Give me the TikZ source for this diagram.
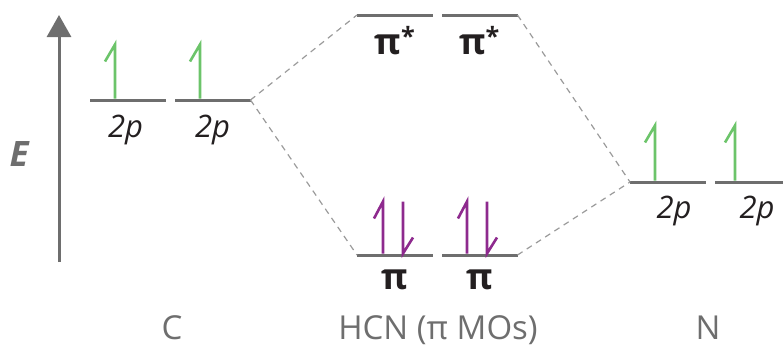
\documentclass[tikz,border=0pt]{standalone}
\usepackage{fontspec}
\setmainfont{Open Sans}
\usetikzlibrary{arrows.meta, positioning}
\definecolor{levelgray}{RGB}{110,110,110}
\definecolor{dashgray}{RGB}{155,155,155}
\definecolor{spingreen}{RGB}{108,196,106}
\definecolor{spinpurple}{RGB}{142,42,142}
\definecolor{textblack}{RGB}{35,31,32}

\begin{document}
\begin{tikzpicture}[x=1pt, y=-1pt, node distance=12pt,
    every node/.style={font=\fontsize{21}{24}\selectfont, text=textblack, inner sep=0pt},
    level/.style={fill=levelgray, minimum width=76pt, minimum height=3pt, inner sep=0pt, outer sep=0pt},
    orb/.style={font=\fontsize{31}{34}\selectfont\itshape},
    mo/.style={font=\fontsize{36}{40}\selectfont\bfseries},
    atom/.style={font=\fontsize{33}{36}\selectfont, text=levelgray, anchor=base},
    corr/.style={dashgray, dash pattern=on 6pt off 5pt, line width=1.2pt},
    spinline/.style={line width=2.6pt}]
    \useasboundingbox (0,0) rectangle (783,349);

    % Energy axis
    \coordinate (axisbot) at (59,262);
    \coordinate (axistop) at (59,15);
    \draw[levelgray, line width=3pt, -{Triangle[width=24pt, length=22pt]}] (axisbot) -- (axistop);
    \node[font=\fontsize{35}{38}\selectfont\bfseries\itshape, text=levelgray] (E) at (19,154) {E};

    % Levels
    \node[level] (C1) at (127.5,100) {};
    \node[level] (C2) at (212.5,100) {};
    \node[level] (P1s) at (395,15) {};
    \node[level] (P2s) at (479.5,15) {};
    \node[level] (P1) at (395,255) {};
    \node[level] (P2) at (479.5,255) {};
    \node[level] (N1) at (668,182) {};
    \node[level, minimum width=68pt] (N2) at (749,182) {};

    % Level labels
    \node[orb, below=13pt of C1, xshift=-2pt] (C1lab) {2p};
    \node[orb, below=13pt of C2] (C2lab) {2p};
    \node[mo, below=10pt of P1s] (P1slab) {π\textsuperscript{*}};
    \node[mo, below=10pt of P2s] (P2slab) {π\textsuperscript{*}};
    \node[mo, below=13pt of P1] (P1lab) {π};
    \node[mo, below=13pt of P2] (P2lab) {π};
    \node[orb, below=12pt of N1, xshift=6pt] (N1lab) {2p};
    \node[orb, below=12pt of N2, xshift=8pt] (N2lab) {2p};

    % Atoms and molecule
    \node[atom] (Clab) at (172,339) {C};
    \node[atom] (HCN) at (438,339) {HCN (π MOs)};
    \node[atom] (Nlab) at (708,339) {N};

    % Dashed correlation lines
    \draw[corr] (C2.east) -- (P1s.west);
    \draw[corr] (C2.east) -- (P1.west);
    \draw[corr] (P2s.east) -- (N1.west);
    \draw[corr] (P2.east) -- (N1.west);

    % Electrons
    \draw[spingreen, spinline] ([xshift=-12.5pt]C1.north) -- ++(0,-54) -- ++(-10,17);
    \draw[spingreen, spinline] ([xshift=-12.5pt]C2.north) -- ++(0,-54) -- ++(-10,17);
    \draw[spingreen, spinline] ([xshift=-13pt]N1.north) -- ++(0,-55) -- ++(-10,17);
    \draw[spingreen, spinline] ([xshift=-14pt]N2.north) -- ++(0,-55) -- ++(-10,17);
    \draw[spinpurple, spinline] ([xshift=-12pt]P1.north) -- ++(0,-52) -- ++(-9,17);
    \draw[spinpurple, spinline] ([xshift=8pt]P1.north) ++(0,-52) -- ++(0,52) -- ++(10,-16);
    \draw[spinpurple, spinline] ([xshift=-12.5pt]P2.north) -- ++(0,-52) -- ++(-9,17);
    \draw[spinpurple, spinline] ([xshift=7.5pt]P2.north) ++(0,-52) -- ++(0,52) -- ++(10,-16);
\end{tikzpicture}
\end{document}
